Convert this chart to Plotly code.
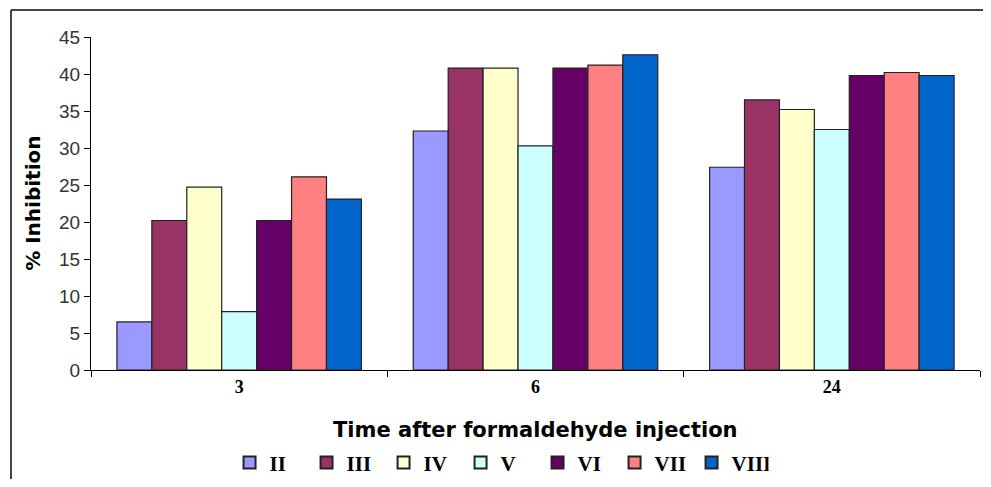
import plotly.graph_objects as go

categories = ["3", "6", "24"]
series_names = ["II", "III", "IV", "V", "VI", "VII", "VIII"]
values = {
    "II":   [6.5, 32.3, 27.4],
    "III":  [20.2, 40.8, 36.5],
    "IV":   [24.7, 40.8, 35.2],
    "V":    [7.9, 30.3, 32.5],
    "VI":   [20.2, 40.8, 39.8],
    "VII":  [26.1, 41.2, 40.2],
    "VIII": [23.1, 42.6, 39.8],
}
colors = ["#9999FF", "#993366", "#FFFFCC", "#CCFFFF", "#660066", "#FF8080", "#0066CC"]

fig = go.Figure()
for name, col in zip(series_names, colors):
    fig.add_trace(go.Bar(
        x=categories, y=values[name], name=name,
        marker=dict(color=col, line=dict(color="#222222", width=1.2)),
    ))

fig.update_layout(
    width=975, height=471,
    paper_bgcolor="white", plot_bgcolor="white",
    margin=dict(l=83, r=3, t=29, b=109, autoexpand=False),
    barmode="group", bargap=0.175, bargroupgap=0,
    showlegend=True,
    legend=dict(orientation="h", x=0.459, xanchor="center", y=-0.279, yanchor="middle",
                font=dict(family="Liberation Serif", size=21, color="black", weight="bold"),
                entrywidth=32, entrywidthmode="pixels",
                traceorder="normal", itemsizing="constant"),
    xaxis=dict(
        type="category", showline=True, linecolor="black", linewidth=1,
        ticks="outside", tickson="boundaries", ticklen=6, tickcolor="black",
        tickfont=dict(family="Liberation Serif", size=18, color="black", weight="bold"),
        showgrid=False,
    ),
    yaxis=dict(
        range=[0, 45], dtick=5, showline=True, linecolor="black", linewidth=1,
        ticks="outside", ticklen=6, tickcolor="black",
        tickfont=dict(family="Liberation Sans", size=19, color="#333333"),
        showgrid=False, zeroline=False,
    ),
    annotations=[
        dict(text="<b>Time after formaldehyde injection</b>", xref="paper", yref="paper",
             x=0.5, y=-0.18, xanchor="center", yanchor="middle", showarrow=False,
             font=dict(family="DejaVu Sans", size=21, color="black")),
        dict(text="<b>% Inhibition</b>", xref="paper", yref="paper", textangle=-90,
             x=-0.066, y=0.5, xanchor="center", yanchor="middle", showarrow=False,
             font=dict(family="DejaVu Sans", size=20, color="black")),
    ],
)

# frame: top and left edges
fig.add_shape(type="line", xref="paper", yref="paper",
              x0=-0.09, x1=1.01, y0=1.081, y1=1.081,
              line=dict(color="#444444", width=2))
fig.add_shape(type="line", xref="paper", yref="paper",
              x0=-0.09, x1=-0.09, y0=-0.35, y1=1.081,
              line=dict(color="#444444", width=2))

fig.write_html("out.html")
